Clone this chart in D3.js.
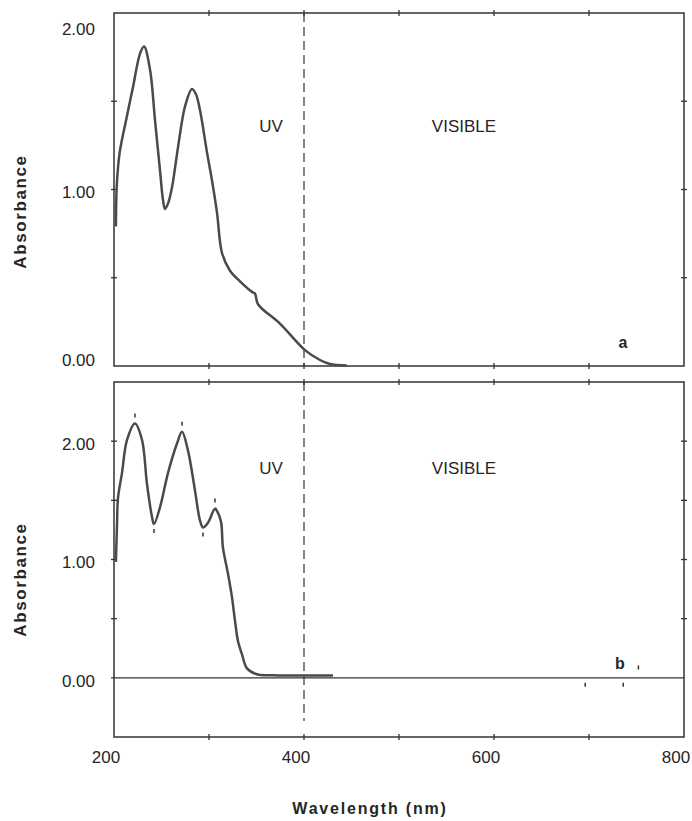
<!DOCTYPE html>
<html>
<head>
<meta charset="utf-8">
<script src="https://cdn.jsdelivr.net/npm/d3@7/dist/d3.min.js"></script>
<style>
  body { margin: 0; background: #fff; }
  text { font-family: "Liberation Sans", Arial, sans-serif; fill: #262626; }
</style>
</head>
<body>
<svg width="692" height="821"></svg>
<script>
// spectrum a
var wavelengthA = [202, 203, 206, 212.6, 220, 227.4, 231.6, 237.9, 243.2, 248.4, 251.6, 253.7, 256.8, 261, 267.4, 274.7, 282.1, 286.3, 290.5, 297.9, 303.2, 308.4, 313.7, 322.1, 332.6, 345.3, 348.4, 351.6, 374.7, 401, 416.8, 427.4, 445];
var absorbanceA = [0.79, 1.03, 1.21, 1.39, 1.58, 1.77, 1.81, 1.68, 1.39, 1.11, 0.94, 0.89, 0.92, 1.01, 1.24, 1.47, 1.57, 1.54, 1.45, 1.21, 1.05, 0.87, 0.64, 0.54, 0.48, 0.42, 0.41, 0.35, 0.24, 0.09, 0.034, 0.011, 0.003];

// spectrum b
var wavelengthB = [202, 203.2, 204.2, 208.4, 213.7, 222.1, 229.5, 234.7, 240, 242.1, 248.4, 256.8, 266.3, 271.6, 277.9, 285.3, 290.5, 293.7, 298.9, 306.3, 308.4, 312.6, 314.7, 320, 324.2, 327.4, 330.5, 334.7, 340, 350.5, 367.4, 430.5];
var absorbanceB = [0.98, 1.30, 1.52, 1.73, 2.01, 2.15, 2.01, 1.64, 1.36, 1.30, 1.44, 1.73, 1.98, 2.08, 1.92, 1.58, 1.33, 1.27, 1.31, 1.43, 1.41, 1.32, 1.10, 0.88, 0.68, 0.48, 0.31, 0.20, 0.08, 0.03, 0.022, 0.02];

// little peak / trough marks on spectrum b
var peakMarksB = [[222.1, 2.15], [271.6, 2.08], [306.3, 1.43], [752, 0.02]];
var troughMarksB = [[242.1, 1.30], [293.7, 1.27], [696, 0], [736, 0]];

var xTickValues = [200, 300, 400, 500, 600, 700, 800];
var xLabelValues = [200, 400, 600, 800];
var yLabelValues = [0, 1, 2];

var svg = d3.select("svg");
var ink = "#333";

var x = d3.scaleLinear().domain([200, 800]).range([114, 684]);

var panels = [
  {top: 13, bottom: 366, domain: [0, 2], yTicks: [0.5, 1, 1.5], wl: wavelengthA, ab: absorbanceA,
   letter: "a", letterX: 623, letterY: 348, textY: 132, dashBottom: 366, baseline: false},
  {top: 382, bottom: 737, domain: [-0.5, 2.5], yTicks: [0.5, 1, 1.5, 2], wl: wavelengthB, ab: absorbanceB,
   letter: "b", letterX: 620, letterY: 669, textY: 474, dashBottom: 721, baseline: true}
];

panels.forEach(function (p, i) {
  var y = d3.scaleLinear().domain(p.domain).range([p.bottom, p.top]);
  var g = svg.append("g");
  var left = x.range()[0], right = x.range()[1];

  // frame
  g.append("rect")
    .attr("x", left).attr("y", p.top)
    .attr("width", right - left).attr("height", p.bottom - p.top)
    .attr("fill", "none").attr("stroke", ink).attr("stroke-width", 1.5);

  // small cross ticks on every edge
  var inner = xTickValues.slice(1, -1);
  g.selectAll("line.xt")
    .data(inner.map(function (v) { return [v, p.top]; }).concat(inner.map(function (v) { return [v, p.bottom]; })))
    .enter().append("line")
    .attr("x1", function (d) { return x(d[0]); }).attr("x2", function (d) { return x(d[0]); })
    .attr("y1", function (d) { return d[1] - 3; }).attr("y2", function (d) { return d[1] + 3; })
    .attr("stroke", ink).attr("stroke-width", 1.3);

  g.selectAll("line.yt")
    .data(p.yTicks.map(function (v) { return [left, v]; }).concat(p.yTicks.map(function (v) { return [right, v]; })))
    .enter().append("line")
    .attr("x1", function (d) { return d[0] - 3; }).attr("x2", function (d) { return d[0] + 3; })
    .attr("y1", function (d) { return y(d[1]); }).attr("y2", function (d) { return y(d[1]); })
    .attr("stroke", ink).attr("stroke-width", 1.3);

  if (p.baseline) {
    g.append("line")
      .attr("x1", left - 3).attr("x2", right)
      .attr("y1", y(0)).attr("y2", y(0))
      .attr("stroke", ink).attr("stroke-width", 1.2);
  }

  // UV / visible boundary
  g.append("line")
    .attr("x1", x(400)).attr("x2", x(400))
    .attr("y1", p.top).attr("y2", p.dashBottom)
    .attr("stroke", ink).attr("stroke-width", 1.2)
    .attr("stroke-dasharray", "9,5");

  // y tick labels
  g.selectAll("text.yl")
    .data(yLabelValues)
    .enter().append("text")
    .attr("x", 95)
    .attr("y", function (v) { return Math.min(Math.max(y(v) + 3, p.top + 16), p.bottom - 6); })
    .attr("dy", "0.35em")
    .attr("text-anchor", "end")
    .style("font-size", "17px")
    .text(function (v) { return d3.format(".2f")(v); });

  // y title
  g.append("text")
    .attr("transform", "translate(26," + ((p.top + p.bottom) / 2 + 22 - i * 2) + ") rotate(-90)")
    .attr("text-anchor", "middle")
    .style("font-size", "17px").style("font-weight", "bold").style("letter-spacing", "1.6px")
    .text("Absorbance");

  g.append("text").attr("x", 271).attr("y", p.textY)
    .attr("text-anchor", "middle").style("font-size", "17px").text("UV");
  g.append("text").attr("x", 464).attr("y", p.textY)
    .attr("text-anchor", "middle").style("font-size", "17px").text("VISIBLE");

  g.append("text").attr("x", p.letterX).attr("y", p.letterY)
    .attr("text-anchor", "middle").style("font-size", "16px").style("font-weight", "bold")
    .text(p.letter);

  // spectrum
  var line = d3.line()
    .x(function (d) { return x(d[0]); })
    .y(function (d) { return y(d[1]); })
    .curve(d3.curveCatmullRom.alpha(0.5));

  g.append("path")
    .datum(d3.zip(p.wl, p.ab))
    .attr("d", line)
    .attr("fill", "none")
    .attr("stroke", "#4a4a4a")
    .attr("stroke-width", 2.5)
    .attr("stroke-linejoin", "round");

  if (i === 1) {
    g.selectAll("line.pk")
      .data(peakMarksB)
      .enter().append("line")
      .attr("x1", function (d) { return x(d[0]); }).attr("x2", function (d) { return x(d[0]); })
      .attr("y1", function (d) { return y(d[1]) - 10; }).attr("y2", function (d) { return y(d[1]) - 6; })
      .attr("stroke", ink).attr("stroke-width", 1.5);
    g.selectAll("line.tr")
      .data(troughMarksB)
      .enter().append("line")
      .attr("x1", function (d) { return x(d[0]); }).attr("x2", function (d) { return x(d[0]); })
      .attr("y1", function (d) { return y(d[1]) + 5; }).attr("y2", function (d) { return y(d[1]) + 9; })
      .attr("stroke", ink).attr("stroke-width", 1.5);
  }
});

// x tick labels under the lower panel
svg.selectAll("text.xl")
  .data(xLabelValues)
  .enter().append("text")
  .attr("x", function (v) { return x(v) - 8; })
  .attr("y", 763)
  .attr("text-anchor", "middle")
  .style("font-size", "17px")
  .text(function (v) { return v; });

svg.append("text")
  .attr("x", 370).attr("y", 814)
  .attr("text-anchor", "middle")
  .style("font-size", "16px").style("font-weight", "bold").style("letter-spacing", "1.8px")
  .text("Wavelength (nm)");
</script>
</body>
</html>
